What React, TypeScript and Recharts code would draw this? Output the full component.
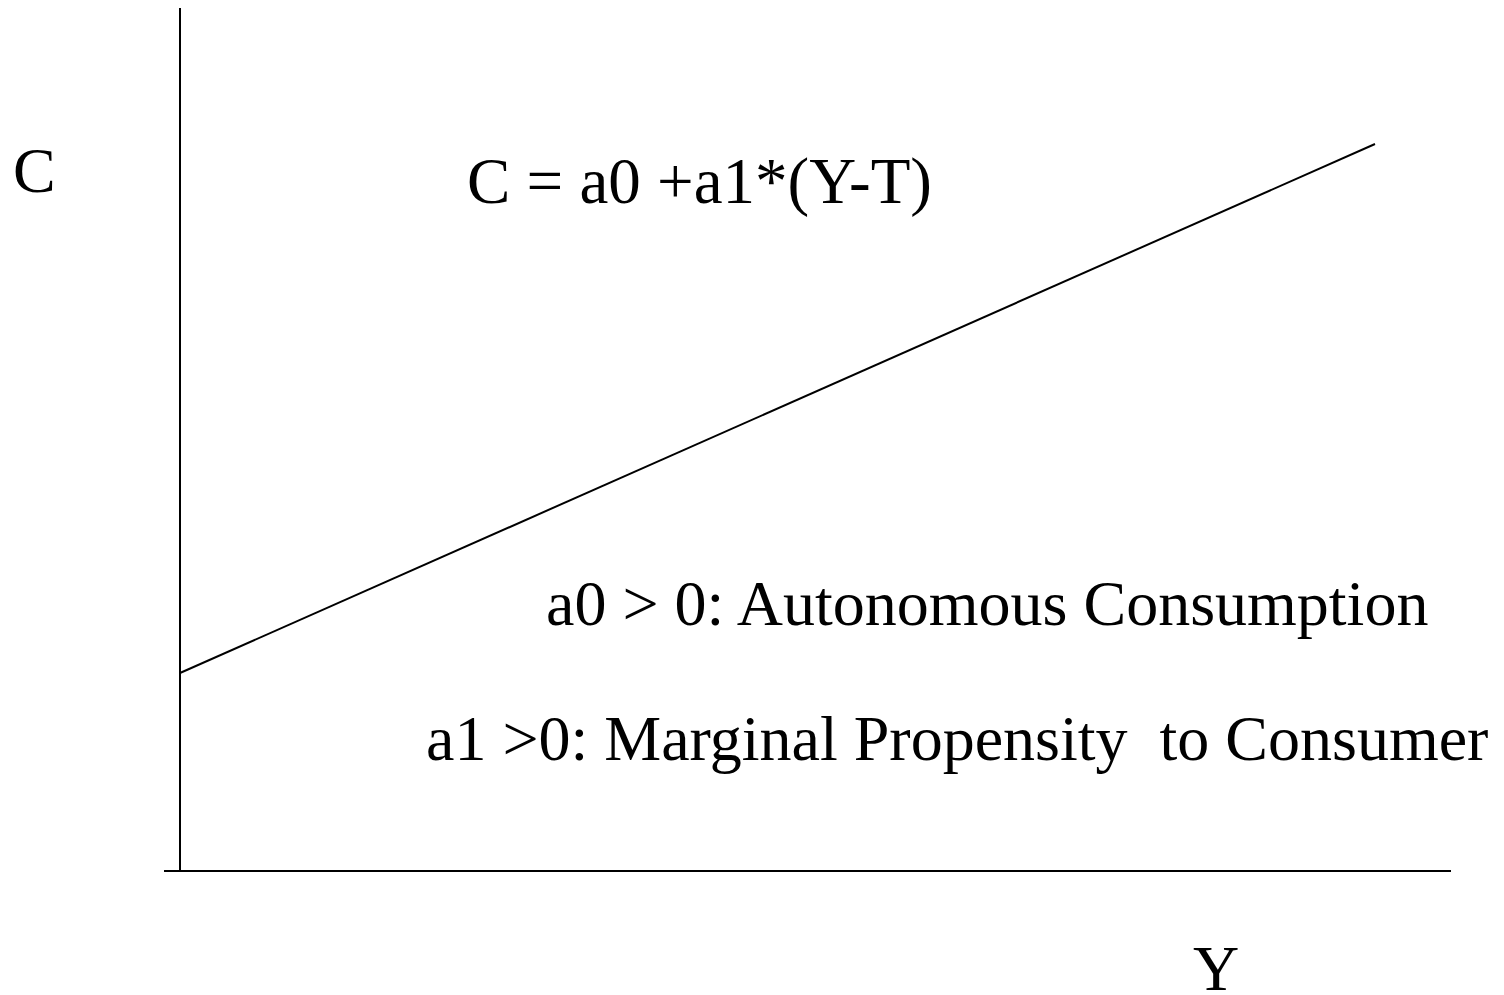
import React from 'react';
import { LineChart, Line, XAxis, YAxis, ReferenceLine } from 'recharts';

// income (Y) and consumption (C) at the two ends of the consumption function
const incomeY = [0, 11.95];
const consumption = [1.98, 7.27];

// visible extent of the two axes
const incomeDomain = [-0.16, 12.71];
const consumptionDomain = [0, 8.63];

const formulaText = 'C = a0 +a1*(Y-T)';
const autonomousText = 'a0 > 0: Autonomous Consumption';
const marginalText = 'a1 >0: Marginal Propensity  to Consumer';

const data = incomeY.map((y, i) => ({ y, c: consumption[i] }));

const textStyle: React.CSSProperties = {
    fontFamily: '"Liberation Serif", "Times New Roman", serif',
    fontSize: 64,
    fill: '#000000',
    whiteSpace: 'pre',
};

export default function App() {
    return (
        <div style={{ position: 'absolute', left: 0, top: 0, background: '#ffffff' }}>
            <LineChart
                width={1504}
                height={995}
                data={data}
                margin={{ top: 8, right: 53, bottom: 124, left: 164 }}
            >
                <XAxis dataKey="y" type="number" domain={incomeDomain} allowDataOverflow hide />
                <YAxis type="number" domain={consumptionDomain} allowDataOverflow hide />

                {/* C axis */}
                <ReferenceLine
                    segment={[{ x: 0, y: consumptionDomain[0] }, { x: 0, y: consumptionDomain[1] }]}
                    stroke="#000000"
                    strokeWidth={2}
                    ifOverflow="visible"
                />
                {/* Y axis */}
                <ReferenceLine
                    segment={[{ x: incomeDomain[0], y: 0 }, { x: incomeDomain[1], y: 0 }]}
                    stroke="#000000"
                    strokeWidth={2}
                    ifOverflow="visible"
                />

                <Line
                    dataKey="c"
                    type="linear"
                    stroke="#000000"
                    strokeWidth={2}
                    dot={false}
                    activeDot={false}
                    isAnimationActive={false}
                />

                <text x={13} y={192} style={textStyle}>C</text>
                <text x={467} y={203} style={{ ...textStyle, fontSize: 65 }}>{formulaText}</text>
                <text x={546} y={625} style={textStyle}>{autonomousText}</text>
                <text x={426} y={760} style={textStyle}>{marginalText}</text>
                <text x={1193} y={990} style={textStyle}>Y</text>
            </LineChart>
        </div>
    );
}
